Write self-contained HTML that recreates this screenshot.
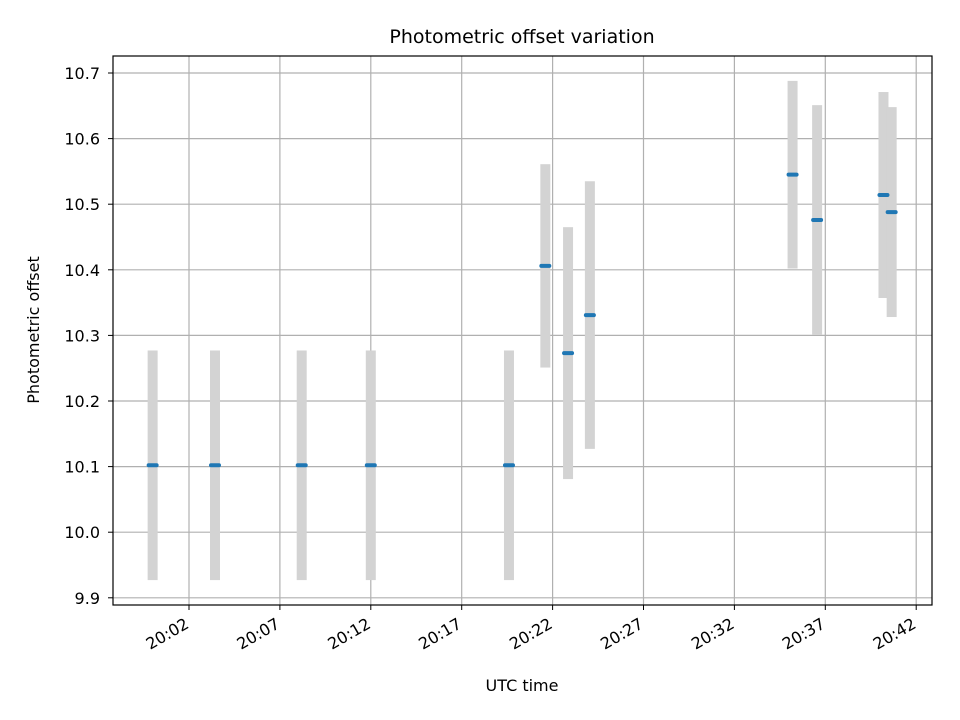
<!DOCTYPE html>
<html><head><meta charset="utf-8"><style>
html,body{margin:0;padding:0;background:#fff}
svg{display:block;font-family:"DejaVu Sans","Liberation Sans",sans-serif}
</style></head><body>
<svg id="chart" width="960" height="720" viewBox="0 0 960 720">
<rect width="960" height="720" fill="#fff"/>
<g id="grid"></g><g id="bars"></g><g id="marks"></g><g id="axes"></g>
<rect x="113" y="56" width="819" height="549" fill="none" stroke="#000" stroke-width="1.2"/>
<text x="522" y="43" text-anchor="middle" font-size="19">Photometric offset variation</text>
<text x="522" y="691" text-anchor="middle" font-size="16">UTC time</text>
<text transform="translate(39,330) rotate(-90)" text-anchor="middle" font-size="16">Photometric offset</text>
</svg>
<script>
// minutes after 20:00
const times=[0.0,3.43,8.2,12.0,19.6,21.6,22.85,24.05,35.2,36.55,40.2,40.65];
const values=[10.102,10.102,10.102,10.102,10.102,10.406,10.273,10.331,10.545,10.476,10.514,10.488];
const errors=[0.175,0.175,0.175,0.175,0.175,0.155,0.192,0.204,0.143,0.175,0.157,0.16];
const yTicks=[9.9,10.0,10.1,10.2,10.3,10.4,10.5,10.6,10.7];
const xTicks=[2,7,12,17,22,27,32,37,42];
const xTickLabels=["20:02","20:07","20:12","20:17","20:22","20:27","20:32","20:37","20:42"];
const NS="http://www.w3.org/2000/svg";
const X=m=>189+(m-2)*18.18;
const Y=v=>73+(10.7-v)*656;
function mk(tag,attrs,parent,txt){const e=document.createElementNS(NS,tag);for(const k in attrs)e.setAttribute(k,attrs[k]);if(txt!==undefined)e.textContent=txt;document.getElementById(parent).appendChild(e);return e;}
yTicks.forEach((t,i)=>{
 const y=Y(t);
 const g=mk('line',{x1:113,x2:932,y1:y,y2:y,stroke:'#b0b0b0','stroke-width':1.2},'grid');
 
 
 mk('line',{x1:108,x2:113,y1:y,y2:y,stroke:'#000'},'axes');
 const l=mk('text',{x:100,y:y+6,'text-anchor':'end','font-size':16},'axes',t.toFixed(1));
 
 
});
xTicks.forEach((t,i)=>{
 const x=X(t);
 const g=mk('line',{x1:x,x2:x,y1:56,y2:605,stroke:'#b0b0b0','stroke-width':1.2},'grid');
 
 
 mk('line',{x1:x,x2:x,y1:605,y2:610,stroke:'#000'},'axes');
 const ax=x+1, ay=627;
 const l=mk('text',{x:ax,y:ay,'text-anchor':'end','font-size':16,transform:`rotate(-30 ${ax} ${ay})`},'axes',xTickLabels[i]);
 
 
});
times.forEach((t,i)=>{
 const x=X(t);
 const b=mk('rect',{x:x-5,y:Y(values[i]+errors[i]),width:10,height:Y(values[i]-errors[i])-Y(values[i]+errors[i]),fill:'#d3d3d3'},'bars');
 
 
 const m=mk('line',{x1:x-4,x2:x+4,y1:Y(values[i]),y2:Y(values[i]),stroke:'#1f77b4','stroke-width':4,'stroke-linecap':'round'},'marks');
 
 
});
</script>
</body></html>
